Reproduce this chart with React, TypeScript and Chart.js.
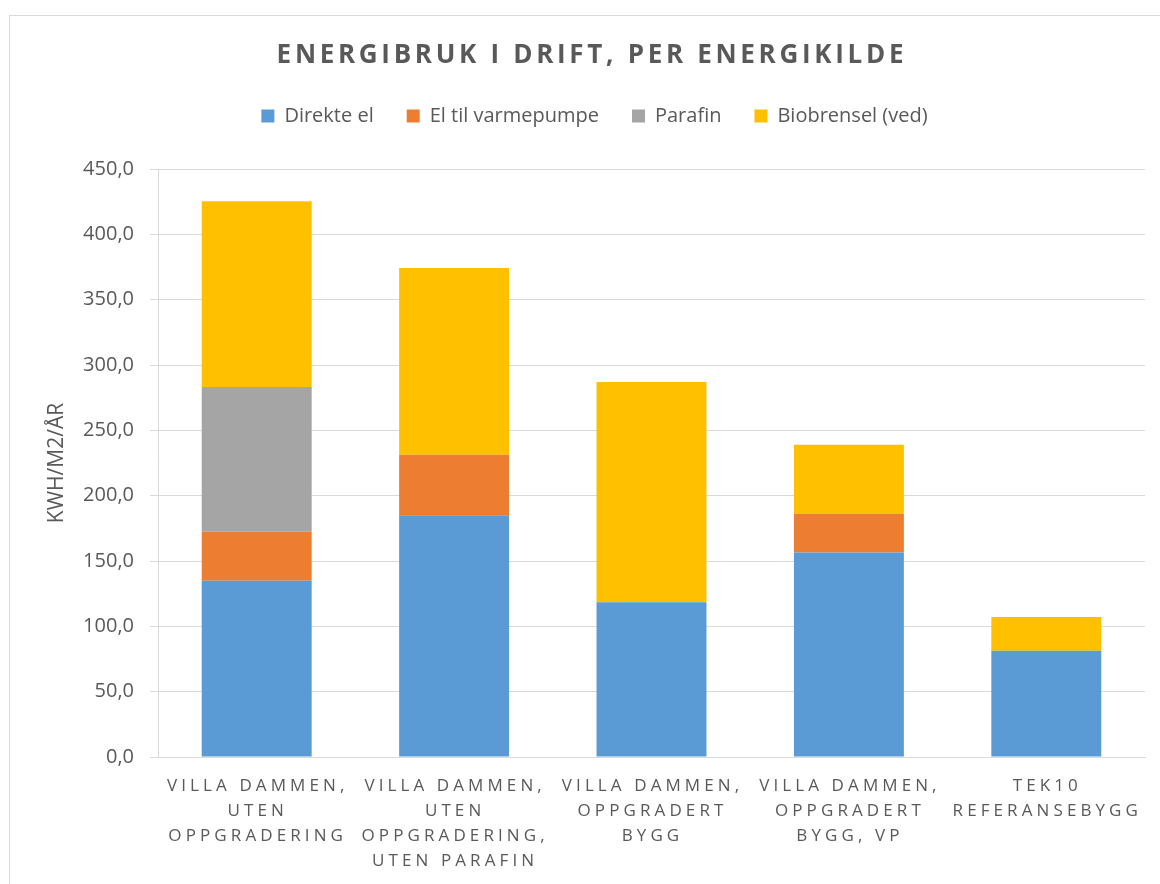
import React, { useEffect, useRef } from 'react';
import { Chart, registerables } from 'chart.js';

Chart.register(...registerables);

const chartTitle = 'ENERGIBRUK I DRIFT, PER ENERGIKILDE';
const yAxisTitle = 'KWH/M2/ÅR';

const categories: string[][] = [
  ['VILLA DAMMEN,', 'UTEN', 'OPPGRADERING'],
  ['VILLA DAMMEN,', 'UTEN', 'OPPGRADERING,', 'UTEN PARAFIN'],
  ['VILLA DAMMEN,', 'OPPGRADERT', 'BYGG'],
  ['VILLA DAMMEN,', 'OPPGRADERT', 'BYGG, VP'],
  ['TEK10', 'REFERANSEBYGG'],
];

const direkteEl = [134.9, 185.0, 118.4, 156.6, 81.4];
const elTilVarmepumpe = [37.5, 46.4, 0, 29.6, 0];
const parafin = [110.8, 0, 0, 0, 0];
const biobrensel = [142.1, 142.8, 168.6, 52.7, 25.7];

const yMin = 0;
const yMax = 450;
const yStep = 50;

const TEXT = '#595959';
const GRID = '#d9d9d9';

const LEGEND_SHIFT = 17;

const legendShiftPlugin = {
  id: 'legendShift',
  beforeDraw(chart: any) {
    const lg = chart.legend;
    if (lg) {
      lg.left += LEGEND_SHIFT;
      lg.right += LEGEND_SHIFT;
    }
  },
  afterDraw(chart: any) {
    const lg = chart.legend;
    if (lg) {
      lg.left -= LEGEND_SHIFT;
      lg.right -= LEGEND_SHIFT;
    }
  },
};

const overlayPlugin = {
  id: 'overlayText',
  afterDraw(chart: any) {
    const ctx = chart.ctx as CanvasRenderingContext2D & { letterSpacing?: string };
    ctx.save();
    ctx.fillStyle = TEXT;
    ctx.textAlign = 'center';
    ctx.textBaseline = 'middle';
    // title
    ctx.letterSpacing = '3.7px';
    ctx.font = 'bold 26px "Open Sans"';
    ctx.fillText(chartTitle, chart.width / 2 + 1.9, 40);
    // x labels
    const xs = chart.scales.x;
    ctx.font = '17px "Open Sans"';
    ctx.letterSpacing = '4.1px';
    categories.forEach((lines, i) => {
      const x = xs.getPixelForValue(i) + 1;
      lines.forEach((line, j) => {
        ctx.fillText(line, x, xs.top + 29 + j * 25);
      });
    });
    ctx.letterSpacing = '0px';
    ctx.restore();
  },
};

export default function App() {
  const ref = useRef<HTMLCanvasElement | null>(null);

  useEffect(() => {
    if (!ref.current) return;
    const chart = new Chart(ref.current, {
      type: 'bar',
      data: {
        labels: categories.map((c) => c.join(' ')),
        datasets: [
          { label: 'Direkte el', data: direkteEl, backgroundColor: '#5B9BD5' },
          { label: 'El til varmepumpe', data: elTilVarmepumpe, backgroundColor: '#ED7D31' },
          { label: 'Parafin', data: parafin, backgroundColor: '#A5A5A5' },
          { label: 'Biobrensel (ved)', data: biobrensel, backgroundColor: '#FFC000' },
        ],
      },
      options: {
        responsive: false,
        animation: false,
        datasets: {
          bar: { categoryPercentage: 1, barPercentage: 0.557, borderWidth: 0 },
        },
        layout: { padding: { top: 57, right: 25, left: 0, bottom: 0 } },
        plugins: {
          title: { display: false },
          subtitle: {
            display: true,
            text: ' ',
            weight: 500,
            font: { size: 10 },
            padding: { top: 0, bottom: 21 },
          },
          tooltip: { enabled: false },
          legend: {
            position: 'top',
            labels: {
              color: TEXT,
              font: { family: '"Open Sans"', size: 20 },
              boxWidth: 13,
              boxHeight: 13,
              padding: 33,
            },
          },
        } as any,
        scales: {
          x: {
            stacked: true,
            grid: { display: false },
            border: { display: true, color: GRID },
            ticks: { display: false },
            afterFit(scale: any) {
              scale.height = 139;
            },
          },
          y: {
            stacked: true,
            min: yMin,
            max: yMax,
            ticks: {
              stepSize: yStep,
              color: TEXT,
              font: { family: '"Open Sans"', size: 20 },
              padding: 16,
              callback: (v: any) => Number(v).toFixed(1).replace('.', ','),
            },
            grid: { color: GRID, lineWidth: 1, tickLength: 8 },
            border: { display: true, color: GRID },
            title: {
              display: true,
              text: yAxisTitle,
              color: TEXT,
              font: { family: '"Open Sans"', size: 21 },
              padding: { top: 34, bottom: 0 },
            },
            afterFit(scale: any) {
              scale.width = 148;
            },
          },
        },
      },
      plugins: [legendShiftPlugin, overlayPlugin],
    });
    return () => chart.destroy();
  }, []);

  return (
    <div
      style={{
        position: 'fixed',
        left: 9,
        top: 15,
        width: 1160,
        height: 880,
        border: '1px solid #d9d9d9',
        background: '#fff',
      }}
    >
      <canvas ref={ref} width={1160} height={880} style={{ display: 'block' }} />
    </div>
  );
}
